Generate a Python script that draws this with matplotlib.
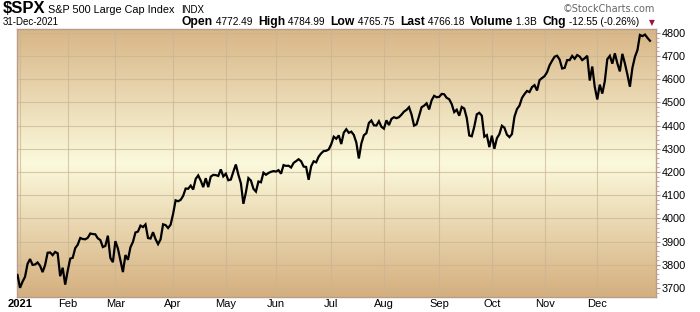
import numpy as np
import matplotlib
matplotlib.use("Agg")
import matplotlib.pyplot as plt
from matplotlib.colors import LinearSegmentedColormap

# S&P 500 daily closes, 2021 (trading days per month)
prev_close = 3756.07  # 31-Dec-2020
jan = [3700.65, 3726.86, 3748.14, 3803.79, 3824.68, 3799.61, 3801.19, 3809.84, 3795.54, 3768.25,
       3798.91, 3851.85, 3853.07, 3841.47, 3855.36, 3849.62, 3750.77, 3787.38, 3714.24]
feb = [3773.86, 3826.31, 3830.17, 3871.74, 3886.83, 3915.59, 3911.23, 3909.88, 3916.38, 3934.83,
       3932.59, 3931.33, 3913.97, 3906.71, 3876.50, 3881.37, 3925.43, 3829.34, 3811.15]
mar = [3901.82, 3870.29, 3819.72, 3768.47, 3841.94, 3821.35, 3875.44, 3898.81, 3939.34, 3943.34,
       3968.94, 3962.71, 3974.12, 3915.46, 3913.10, 3940.59, 3910.52, 3889.14, 3909.52, 3974.54,
       3971.09, 3958.55, 3972.89]
apr = [4019.87, 4077.91, 4073.94, 4079.95, 4097.17, 4128.80, 4127.99, 4141.59, 4124.66, 4170.42,
       4185.47, 4163.26, 4134.94, 4173.42, 4134.98, 4180.17, 4187.62, 4186.72, 4183.18, 4211.47,
       4181.17]
may = [4192.66, 4164.66, 4167.59, 4201.62, 4232.60, 4188.43, 4152.10, 4063.04, 4112.50, 4173.85,
       4163.29, 4127.83, 4115.68, 4159.12, 4155.86, 4197.05, 4188.13, 4195.99, 4200.88, 4204.11]
jun = [4202.04, 4208.12, 4192.85, 4229.89, 4226.52, 4227.26, 4219.55, 4239.18, 4247.44, 4255.15,
       4246.59, 4223.70, 4221.86, 4166.45, 4224.79, 4246.44, 4241.84, 4266.49, 4280.70, 4290.61,
       4291.80, 4297.50]
jul = [4319.94, 4352.34, 4343.54, 4358.13, 4320.82, 4369.55, 4384.63, 4369.21, 4374.30, 4360.03,
       4327.16, 4258.49, 4323.06, 4358.69, 4367.48, 4411.79, 4422.30, 4401.46, 4400.64, 4419.15,
       4395.26]
aug = [4387.16, 4423.15, 4402.66, 4429.10, 4436.52, 4432.35, 4436.75, 4447.70, 4460.83, 4468.00,
       4479.71, 4448.08, 4400.27, 4405.80, 4441.67, 4479.53, 4486.23, 4496.19, 4470.00, 4509.37,
       4528.79, 4522.68]
sep = [4524.09, 4536.95, 4535.43, 4520.03, 4514.07, 4493.28, 4458.58, 4468.73, 4443.05, 4480.70,
       4473.75, 4432.99, 4357.73, 4354.19, 4395.64, 4448.98, 4455.48, 4443.11, 4352.63, 4359.46,
       4307.54]
oct_ = [4357.04, 4300.46, 4345.72, 4363.55, 4399.76, 4391.34, 4361.19, 4350.65, 4363.80, 4438.26,
        4471.37, 4486.46, 4519.63, 4536.19, 4549.78, 4544.90, 4566.48, 4574.79, 4551.68, 4596.42,
        4605.38]
nov = [4613.67, 4630.65, 4660.57, 4680.06, 4697.53, 4701.70, 4685.25, 4646.71, 4649.27, 4682.85,
       4682.80, 4700.90, 4688.67, 4704.54, 4697.96, 4682.94, 4690.70, 4701.46, 4594.62, 4655.27,
       4567.00]
dec = [4513.04, 4577.10, 4538.43, 4591.67, 4686.75, 4701.21, 4667.45, 4712.02, 4668.97, 4634.09,
       4709.85, 4668.67, 4620.64, 4568.02, 4649.23, 4696.56, 4725.79, 4791.19, 4786.35, 4793.06,
       4778.73, 4766.18]

months = [jan, feb, mar, apr, may, jun, jul, aug, sep, oct_, nov, dec]
month_labels = ["2021", "Feb", "Mar", "Apr", "May", "Jun", "Jul", "Aug", "Sep", "Oct", "Nov", "Dec"]
y_ticks = [3700, 3800, 3900, 4000, 4100, 4200, 4300, 4400, 4500, 4600, 4700, 4800]

header_pieces = [("Open", True), (" 4772.49  ", False), ("High", True), (" 4784.99  ", False),
                 ("Low", True), (" 4765.75  ", False), ("Last", True), (" 4766.18  ", False),
                 ("Volume", True), (" 1.3B  ", False), ("Chg", True), (" -12.55 (-0.26%)", False)]

closes = [prev_close] + [v for m in months for v in m]
x = np.arange(len(closes)) - 1
month_starts = np.cumsum([0] + [len(m) for m in months[:-1]])

FONT = "Liberation Sans"
plt.rcParams["font.family"] = [FONT, "DejaVu Sans"]

W, H = 700, 312
fig = plt.figure(figsize=(W / 100, H / 100), dpi=100)
fig.patch.set_facecolor("white")
ax = fig.add_axes([17 / W, 1 - 297 / H, 639 / W, 268 / H])

# background gradient: tan at top and bottom, cream in the middle
cmap = LinearSegmentedColormap.from_list(
    "sc", [(0, "#d5af7e"), (0.5, "#fbf9dc"), (1, "#d8b687")])
grad = np.linspace(0, 1, 256).reshape(-1, 1)
ax.imshow(grad, cmap=cmap, aspect="auto", extent=[0, 1, 0, 1],
          transform=ax.transAxes, origin="lower", zorder=0)

ax.plot(x, closes, color="black", lw=1.6, zorder=3, solid_joinstyle="miter")

ax.set_xlim(-1.2, 253.4)
ax.set_ylim(3661, 4817)

ax.set_xticks(month_starts)
ax.set_xticklabels(month_labels)
ax.set_yticks(y_ticks)
ax.set_yticks(np.arange(3680, 4817, 20), minor=True)
ax.yaxis.tick_right()
ax.grid(True, which="major", color="#c9b595", lw=0.8, alpha=0.7, zorder=1)

ax.tick_params(axis="x", which="both", length=0, pad=1.5, labelsize=8, colors="black")
ax.tick_params(axis="y", which="major", length=3, width=0.8, color="#b09080",
               pad=1, labelsize=7.8, direction="out")
ax.tick_params(axis="y", which="minor", length=2, width=0.6, color="#c0a090", direction="out")
ax.get_xticklabels()[0].set_fontweight("bold")

for sp in ax.spines.values():
    sp.set_color("#b89c8c")
    sp.set_linewidth(1)

# header
fig.text(3 / W, 1 - 13 / H, "$SPX", fontsize=12, fontweight="bold", va="baseline")
fig.text(48 / W, 1 - 13 / H, "S&P 500 Large Cap Index", fontsize=7.8, va="baseline")
fig.text(181 / W, 1 - 13 / H, "INDX", fontsize=7, va="baseline")
fig.text(3 / W, 1 - 25 / H, "31-Dec-2021", fontsize=7, va="baseline")
fig.text(655 / W, 1 - 12 / H, "\u00a9StockCharts.com", fontsize=7, color="#666666",
         ha="right", va="baseline", family="DejaVu Sans")

renderer = fig.canvas.get_renderer()
xpos = 182
for txt, bold in header_pieces:
    t = fig.text(xpos / W, 1 - 25 / H, txt, fontsize=8.7 if bold else 7.3,
                 fontweight="bold" if bold else "normal", va="baseline")
    xpos += t.get_window_extent(renderer).width
fig.text(652 / W, 1 - 25 / H, "\u25bc", fontsize=5.5, color="#a0103a", ha="center",
         va="baseline", family="DejaVu Sans")

fig.savefig("out.png", dpi=100)
